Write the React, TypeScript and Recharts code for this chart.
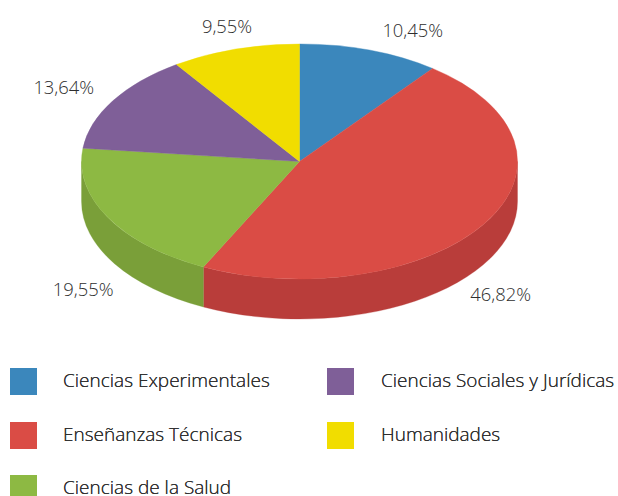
import React from "react";
import { PieChart, Pie, Legend } from "recharts";

const categories = [
  "Ciencias Experimentales",
  "Enseñanzas Técnicas",
  "Ciencias de la Salud",
  "Ciencias Sociales y Jurídicas",
  "Humanidades",
];
const shares = [10.45, 46.82, 19.55, 13.64, 9.55];
const topColors = ["#3B87BC", "#DA4C45", "#8DB943", "#7F5F98", "#F1DD00"];
const wallColors = ["#2F6C96", "#B93D3A", "#7A9F39", "#664C7A", "#C1B100"];

const W = 618;
const H = 496;
const CX = 299.5;
const CY = 161.5;
const RX = 218;
const RY = 117.5;
const DEPTH = 40;
const FONT = "'Open Sans', sans-serif";
const TEXT = "#2e2e2e";

// label offset from the rim point at the slice's mid angle
const labelOffsets = [
  [43, -21],
  [16, 70],
  [-25, 71],
  [-49, -14],
  [-8, -24],
];
const legendSlots = [
  [10, 368],
  [10, 422],
  [10, 475],
  [327, 368],
  [327, 422],
];

const rows = categories.map((name, i) => ({
  name,
  value: shares[i],
  fill: topColors[i],
  wall: wallColors[i],
}));

const rad = (a: number) => (a * Math.PI) / 180;
const px = (cx: number, a: number) => cx + RX * Math.cos(rad(a));
const py = (cy: number, a: number) => cy - RY * Math.sin(rad(a));

const TopSlice = (p: any) => {
  const { cx, cy, startAngle: s, endAngle: e, fill } = p;
  const large = Math.abs(s - e) > 180 ? 1 : 0;
  const d = `M${cx},${cy}L${px(cx, s)},${py(cy, s)}A${RX},${RY} 0 ${large} 1 ${px(cx, e)},${py(cy, e)}Z`;
  return <path d={d} fill={fill} stroke={fill} strokeWidth={0.4} />;
};

const WallSlice = (p: any) => {
  const { cx, cy, startAngle, endAngle, payload } = p;
  const s = Math.min(startAngle, 0);
  const e = Math.max(endAngle, -180);
  if (s <= e) return <g />;
  const large = s - e > 180 ? 1 : 0;
  const d =
    `M${px(cx, s)},${py(cy, s)}` +
    `A${RX},${RY} 0 ${large} 1 ${px(cx, e)},${py(cy, e)}` +
    `L${px(cx, e)},${py(cy, e) + DEPTH}` +
    `A${RX},${RY} 0 ${large} 0 ${px(cx, s)},${py(cy, s) + DEPTH}Z`;
  const wall = payload?.wall ?? p.wall;
  return <path d={d} fill={wall} stroke={wall} strokeWidth={0.3} />;
};

const renderLabel = (p: any) => {
  const { cx, cy, midAngle, index, value } = p;
  const [ox, oy] = labelOffsets[index];
  return (
    <text
      x={px(cx, midAngle) + ox}
      y={py(cy, midAngle) + oy}
      textAnchor="middle"
      dominantBaseline="central"
      fontFamily={FONT}
      fontWeight={300}
      fontSize={18.4}
      fill={TEXT}
    >
      {Number(value).toFixed(2).replace(".", ",") + "%"}
    </text>
  );
};

const LegendBody = (props: any) => {
  const items = (props.payload || []).filter((it: any) => categories.includes(it.value));
  return (
    <div style={{ position: "relative", width: W, height: H }}>
      {items.map((it: any) => {
        const i = categories.indexOf(it.value);
        const [x, y] = legendSlots[i];
        return (
          <React.Fragment key={it.value}>
            <div
              style={{
                position: "absolute",
                left: x,
                top: y,
                width: 27,
                height: i === 2 ? 21 : 27,
                background: topColors[i],
              }}
            />
            <div
              style={{
                position: "absolute",
                left: x + (x > 100 ? 54 : 53),
                top: y + 3,
                height: 18,
                lineHeight: "18px",
                whiteSpace: "nowrap",
                fontFamily: FONT,
                fontWeight: 300,
                fontSize: 19,
                color: TEXT,
              }}
            >
              {it.value}
            </div>
          </React.Fragment>
        );
      })}
    </div>
  );
};

export default function App() {
  return (
    <div style={{ position: "absolute", left: 0, top: 0, width: W, height: H, overflow: "hidden" }}>
      <PieChart width={W} height={H} margin={{ top: 0, right: 0, bottom: 0, left: 0 }}>
        <Pie
          data={rows}
          dataKey="value"
          nameKey="name"
          cx={CX}
          cy={CY}
          outerRadius={RX}
          startAngle={90}
          endAngle={-270}
          legendType="none"
          isAnimationActive={false}
          shape={WallSlice}
          stroke="none"
        />
        <Pie
          data={rows}
          dataKey="value"
          nameKey="name"
          cx={CX}
          cy={CY}
          outerRadius={RX}
          startAngle={90}
          endAngle={-270}
          isAnimationActive={false}
          shape={TopSlice}
          stroke="none"
          label={renderLabel}
          labelLine={false}
        />
        <Legend
          content={LegendBody}
          wrapperStyle={{ position: "absolute", left: 0, top: 0, width: W, height: H }}
        />
      </PieChart>
    </div>
  );
}
